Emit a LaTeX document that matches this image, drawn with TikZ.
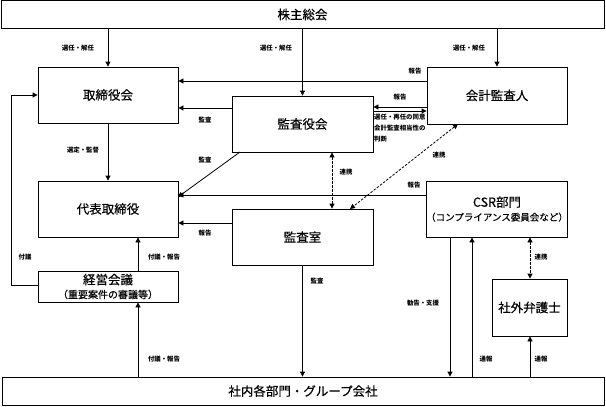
\documentclass[tikz,border=0pt]{standalone}
\usepackage{fontspec}
\setmainfont{Noto Sans CJK JP}
\newfontfamily\boxfont{Noto Sans CJK JP}[FakeBold=0.35]
\usetikzlibrary{arrows.meta}
\begin{document}
\begin{tikzpicture}[x=1pt,y=-1pt,
  box/.style={draw, line width=0.8pt, inner sep=0pt, align=center, font=\boxfont\fontsize{12.5}{14}\selectfont},
  lbl/.style={inner sep=0pt, font=\fontsize{6.4}{8}\selectfont\bfseries},
  tip/.tip={Triangle[length=5pt,width=5pt]},
  arr/.style={line width=0.8pt, -tip},
  darr/.style={line width=0.8pt, dashed, dash pattern=on 2.5pt off 1.5pt, tip-tip}]
\useasboundingbox (0,0) rectangle (606,407);
% boxes
\node[box, minimum width=603pt, minimum height=28pt] (soukai) at (302.5,14.5) {株主総会};
\node[box, minimum width=140pt, minimum height=56pt] (tori) at (108,95) {取締役会};
\node[box, minimum width=140pt, minimum height=57pt] (kaikei) at (497,95.5) {会計監査人};
\node[box, minimum width=141pt, minimum height=56pt] (kansayaku) at (302.5,124) {監査役会};
\node[box, minimum width=140pt, minimum height=56pt] (daihyo) at (108,209) {代表取締役};
\node[box, minimum width=141pt, minimum height=56pt] (kansashitsu) at (302.5,237) {監査室};
\node[box, minimum width=140pt, minimum height=56pt] (csr) at (497,209) {{\fontsize{12.5}{15}\selectfont CSR部門}\\{\fontsize{9.5}{11}\selectfont （コンプライアンス委員会など）}};
\node[box, minimum width=140pt, minimum height=31pt] (keiei) at (108,286.5) {{\fontsize{12.5}{13}\selectfont 経営会議}\\{\fontsize{10}{11}\selectfont （重要案件の審議等）}};
\node[box, minimum width=75pt, minimum height=57pt] (bengo) at (529.5,307.5) {社外弁護士};
\node[box, minimum width=602pt, minimum height=28pt] (shanai) at (303,391) {社内各部門・グループ会社};
% coordinates
\coordinate (ka1) at (458,124);
\coordinate (ks1) at (350,209);
\coordinate (sy1) at (240,152);
\coordinate (dh1) at (178,197);
\coordinate (lp) at (11,285);
% arrows from 株主総会
\draw[arr] (tori.north |- soukai.south) -- (tori.north);
\draw[arr] (kansayaku.north |- soukai.south) -- (kansayaku.north);
\draw[arr] (kaikei.north |- soukai.south) -- (kaikei.north);
\node[lbl] (l1) at (78,48) {選任・解任};
\node[lbl] (l2) at (276,48) {選任・解任};
\node[lbl] (l3) at (469,48) {選任・解任};
% to 取締役会
\draw[arr] (kaikei.west |- 0,81) -- (tori.east |- 0,81);
\node[lbl] (l4) at (415,71) {報告};
\draw[arr] (kansayaku.west |- 0,108) -- (tori.east |- 0,108);
\node[lbl] (l5) at (205,120) {監査};
% between 監査役会 and 会計監査人
\draw[arr] (kaikei.west |- 0,107) -- (kansayaku.east |- 0,107);
\draw[arr] (kansayaku.east |- 0,111) -- (kaikei.west |- 0,111);
\node[lbl] (l6) at (400,97) {報告};
\node[lbl, anchor=north west, align=left, font=\fontsize{6.4}{10.8}\selectfont\bfseries] (l7) at (374,114) {選任・再任の同意\\会計監査相当性の\\判断};
% to 代表取締役
\draw[arr] (tori.south) -- (daihyo.north);
\node[lbl] (l8) at (83,150) {選定・監督};
\draw[arr] (sy1) -- (dh1);
\node[lbl] (l9) at (205,160) {監査};
\draw[arr] (csr.west |- 0,195) -- (daihyo.east |- 0,195);
\node[lbl] (l10) at (414,185) {報告};
\draw[arr] (kansashitsu.west |- 0,223) -- (daihyo.east |- 0,223);
\node[lbl] (l11) at (205,233) {報告};
% dashed links
\draw[darr] (kansayaku.south -| 332,0) -- (kansashitsu.north -| 332,0);
\node[lbl] (l12) at (346,172) {連携};
\draw[darr] (ka1) -- (ks1);
\node[lbl] (l13) at (439,155) {連携};
\draw[darr] (csr.south -| 530,0) -- (bengo.north -| 530,0);
\node[lbl] (l14) at (541,257) {連携};
% 経営会議
\draw[arr] (keiei.north -| 138,0) -- (daihyo.south -| 138,0);
\node[lbl] (l15) at (164,257) {付議・報告};
\draw[arr] (shanai.north -| 138,0) -- (keiei.south -| 138,0);
\node[lbl] (l16) at (164,359) {付議・報告};
\draw[arr] (keiei.west |- lp) -- (lp) -- (lp |- tori.west) -- (tori.west);
\node[lbl] (l17) at (25,257) {付議};
% to 社内各部門
\draw[arr] (kansashitsu.south) -- (kansashitsu.south |- shanai.north);
\node[lbl] (l18) at (317,281) {監査};
\draw[arr] (csr.south -| 450,0) -- (shanai.north -| 450,0);
\node[lbl] (l19) at (423,303) {勧告・支援};
\draw[arr] (shanai.north -| 472,0) -- (csr.south -| 472,0);
\node[lbl] (l20) at (486,359) {通報};
\draw[arr] (shanai.north -| 530,0) -- (bengo.south -| 530,0);
\node[lbl] (l21) at (541,359) {通報};
\end{tikzpicture}
\end{document}
